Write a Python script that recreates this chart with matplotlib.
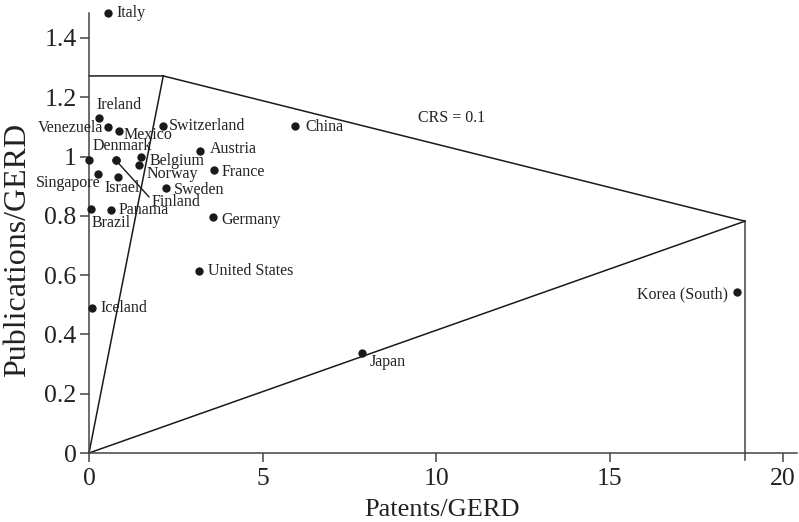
import matplotlib.pyplot as plt
from matplotlib.ticker import FuncFormatter, MultipleLocator

plt.rcParams["font.family"] = ["Liberation Serif", "DejaVu Serif"]

# Output per unit of GERD, one point per country
COUNTRIES = [
    "Italy", "Ireland", "Venezuela", "Mexico", "Switzerland", "China",
    "Austria", "Belgium", "Norway", "Denmark", "Finland", "", "Singapore",
    "Israel", "France", "Sweden", "Germany", "Panama", "Brazil",
    "United States", "Iceland", "Korea (South)", "Japan",
]
PATENTS = [
    0.54, 0.30, 0.56, 0.86, 2.12, 5.94,
    3.21, 1.49, 1.44, 0.77, 0.77, 0.0, 0.25,
    0.84, 3.59, 2.22, 3.58, 0.63, 0.05,
    3.18, 0.10, 18.67, 7.88,
]
PUBLICATIONS = [
    1.485, 1.13, 1.10, 1.087, 1.104, 1.103,
    1.02, 0.999, 0.971, 0.988, 0.988, 0.99, 0.941,
    0.932, 0.954, 0.893, 0.795, 0.82, 0.823,
    0.615, 0.49, 0.543, 0.338,
]

# CRS frontier vertices
FRONTIER_X = [0.0, 2.14, 18.9]
FRONTIER_Y = [1.272, 1.272, 0.782]
CRS_LABEL = "CRS = 0.1"

# label offsets in points: (dx, dy, ha)
LABEL_POS = {
    "Italy": (6, 0, "left"),
    "Ireland": (-2, 9.5, "left"),
    "Venezuela": (-3.6, -0.7, "right"),
    "Mexico": (3.6, -3, "left"),
    "Switzerland": (4.5, 0, "left"),
    "China": (7, -0.7, "left"),
    "Austria": (7, 1.2, "left"),
    "Belgium": (6.7, -2.9, "left"),
    "Norway": (5.5, -6.2, "left"),
    "Denmark": (5, 10, "center"),
    "Singapore": (1.7, -6.7, "right"),
    "Israel": (2.9, -8.4, "center"),
    "France": (5.8, -1.2, "left"),
    "Sweden": (5.3, -1.2, "left"),
    "Germany": (6, -1.9, "left"),
    "Panama": (5.3, 0, "left"),
    "Brazil": (0.7, -10, "left"),
    "United States": (6.5, 0, "left"),
    "Iceland": (6, 0, "left"),
    "Korea (South)": (-6.3, -1.4, "right"),
    "Japan": (5, -6.8, "left"),
}

INK = "#1a1a1a"
AXIS = "#444444"
TEXT = "#222222"
LABEL_SIZE = 11.5

fig = plt.figure(figsize=(7.99, 5.22), dpi=100)
ax = fig.add_axes([89 / 799, 69 / 522, 708 / 799, 440.5 / 522])

# frontier: flat top, sloped face, vertical drop, plus the two rays
ax.plot(FRONTIER_X, FRONTIER_Y, color=INK, lw=1.1, clip_on=False)
ax.plot([FRONTIER_X[2], FRONTIER_X[2]], [FRONTIER_Y[2], -0.022],
        color=AXIS, lw=1.1, clip_on=False)
for vx, vy in zip(FRONTIER_X[1:], FRONTIER_Y[1:]):
    ax.plot([0, vx], [0, vy], color=INK, lw=1.1, clip_on=False)

ax.scatter(PATENTS, PUBLICATIONS, s=36, color=INK, zorder=3, clip_on=False,
           linewidths=0)

for name, px, py in zip(COUNTRIES, PATENTS, PUBLICATIONS):
    if name in LABEL_POS:
        dx, dy, ha = LABEL_POS[name]
        ax.annotate(name, (px, py), xytext=(dx, dy), textcoords="offset points",
                    ha=ha, va="center", fontsize=LABEL_SIZE, color=TEXT)
    elif name == "Finland":
        ax.annotate(name, (px, py), xytext=(26, -30.5), textcoords="offset points",
                    ha="left", va="center", fontsize=LABEL_SIZE, color=TEXT,
                    arrowprops=dict(arrowstyle="-", color=INK, lw=1.0,
                                    shrinkA=0, shrinkB=2, relpos=(0, 0.65)))

ax.text(9.48, 1.13, CRS_LABEL, ha="left", va="center", fontsize=LABEL_SIZE,
        color=TEXT)

ax.set_xlim(0, 20.4)
ax.set_ylim(0, 1.486)
ax.xaxis.set_major_locator(MultipleLocator(5))
ax.yaxis.set_major_locator(MultipleLocator(0.2))
ax.yaxis.set_major_formatter(FuncFormatter(lambda v, _: f"{v:g}"))

for side in ("top", "right"):
    ax.spines[side].set_visible(False)
for side in ("left", "bottom"):
    ax.spines[side].set_color(AXIS)
    ax.spines[side].set_linewidth(1.1)
ax.tick_params(direction="out", length=6.5, width=1.1, color=AXIS,
               labelsize=18.5, labelcolor=TEXT)
ax.tick_params(axis="y", pad=2.5)
ax.tick_params(axis="x", pad=4)

fig.text(18 / 799, 1 - 250 / 522, "Publications/GERD", rotation=90,
         ha="center", va="center", fontsize=23, color=TEXT)
fig.text(442 / 799, 1 - 510 / 522, "Patents/GERD", ha="center", va="center",
         fontsize=19, color=TEXT)

fig.savefig("out.png", dpi=100)
